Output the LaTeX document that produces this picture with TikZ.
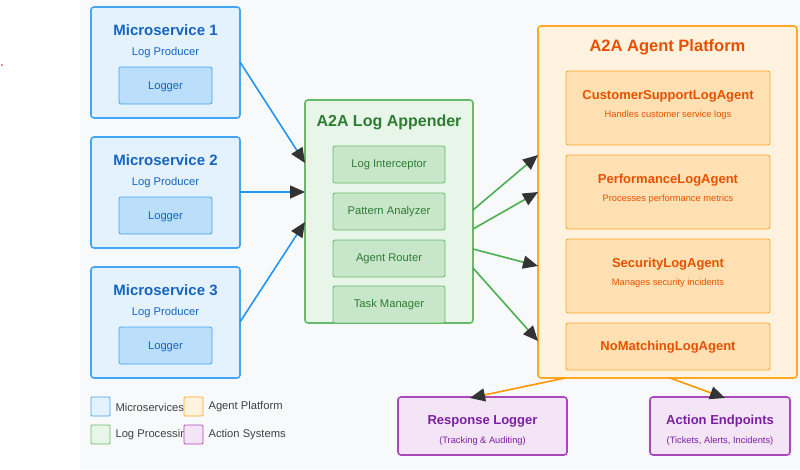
\documentclass[tikz,border=0pt]{standalone}
\usepackage{fontspec}
\setmainfont{Liberation Sans}
\usetikzlibrary{arrows.meta}
\definecolor{bB}{HTML}{42A5F5}\definecolor{bF}{HTML}{E3F2FD}\definecolor{bI}{HTML}{BBDEFB}\definecolor{bT}{HTML}{1565C0}
\definecolor{gB}{HTML}{66BB6A}\definecolor{gF}{HTML}{E8F5E9}\definecolor{gI}{HTML}{C8E6C9}\definecolor{gT}{HTML}{2E7D32}
\definecolor{oB}{HTML}{FFA726}\definecolor{oF}{HTML}{FFF3E0}\definecolor{oI}{HTML}{FFE0B2}\definecolor{oT}{HTML}{E65100}
\definecolor{pB}{HTML}{AB47BC}\definecolor{pF}{HTML}{F3E5F5}\definecolor{pT}{HTML}{7B1FA2}
\definecolor{bL}{HTML}{2196F3}\definecolor{gL}{HTML}{4CAF50}\definecolor{oL}{HTML}{FF9800}
\definecolor{bg}{HTML}{F8F9FA}\definecolor{ah}{HTML}{333333}
\begin{document}
\begin{tikzpicture}[x=1pt,y=-1pt,
 box/.style={rounded corners=3pt,line width=1.6pt},
 ibox/.style={rounded corners=2pt,line width=0.8pt},
 ttl/.style={font=\bfseries\fontsize{15}{17}\selectfont},
 sub/.style={font=\fontsize{11.2}{13}\selectfont},
 sm/.style={font=\fontsize{9.3}{11}\selectfont},
 hd/.style={font=\bfseries\fontsize{13}{15}\selectfont},
 con/.style={line width=1.6pt,-{Triangle[length=15pt,width=13pt,fill=ah,color=ah]}},
 leg/.style={line width=0.9pt,rounded corners=1pt}]
\useasboundingbox (0,0) rectangle (800,469);
\fill[white] (0,0) rectangle (800,469);
\fill[bg] (80,0) rectangle (800,469);
\fill[red] (2,65) circle (0.8);
% microservices
\foreach \i/\y in {1/7,2/137,3/267}{
 \draw[box,draw=bB,fill=bF] (91,\y) rectangle (240,\y+111);
 \node[ttl,text=bT] (ms\i) at (165.5,\y+23) {Microservice \i};
 \node[sub,text=bT] (lp\i) at (165.5,\y+46) {Log Producer};
 \draw[ibox,draw=bB,fill=bI] (119,\y+60) rectangle (212,\y+97);
 \node[sub,text=bT] (lg\i) at (165.5,\y+79.5) {Logger};
 \coordinate (m\i) at (240,\y+55);
}
% appender
\draw[box,draw=gB,fill=gF] (305,100) rectangle (473,323);
\node[ttl,text=gT,font=\bfseries\fontsize{16}{18}\selectfont] (apt) at (389,122) {A2A Log Appender};
\begin{scope}
\clip (305,100) rectangle (473,322);
\foreach \n/\t/\y in {li/Log Interceptor/146,pa/Pattern Analyzer/193,ar/Agent Router/240,tm/Task Manager/286}{
 \draw[ibox,draw=gB,fill=gI] (333,\y) rectangle (445,\y+37);
 \node[sub,text=gT] (\n) at (389,\y+19) {\t};
}
\end{scope}
% platform
\draw[box,draw=oB,fill=oF] (538,26) rectangle (797,378);
\node[text=oT,font=\bfseries\fontsize{16.5}{18}\selectfont] (plt) at (667.5,47) {A2A Agent Platform};
\foreach \n/\t/\d/\y/\h in {cs/CustomerSupportLogAgent/Handles customer service logs/71/74,pf/PerformanceLogAgent/Processes performance metrics/155/74,sc/SecurityLogAgent/Manages security incidents/239/74}{
 \draw[ibox,draw=oB,fill=oI] (566,\y) rectangle (770,\y+\h);
 \node[hd,text=oT] (\n) at (668,\y+25) {\t};
 \node[sm,text=oT] (\n d) at (668,\y+44) {\d};
}
\draw[ibox,draw=oB,fill=oI] (566,323) rectangle (770,370);
\node[hd,text=oT] (nm) at (668,347) {NoMatchingLogAgent};
% bottom boxes
\draw[box,draw=pB,fill=pF] (398,397) rectangle (567,455);
\node[hd,text=pT] (rl) at (482.5,421) {Response Logger};
\node[sm,text=pT] (rls) at (482.5,441) {(Tracking \& Auditing)};
\draw[box,draw=pB,fill=pF] (650,397) rectangle (790,455);
\node[hd,text=pT] (ae) at (720,421) {Action Endpoints};
\node[sm,text=pT] (aes) at (720,441) {(Tickets, Alerts, Incidents)};
% connectors
\coordinate (a1) at (305,163);\coordinate (a2) at (305,192);\coordinate (a3) at (305,222);
\draw[con,draw=bL] (m1) -- (a1);
\draw[con,draw=bL] (m2) -- (a2);
\draw[con,draw=bL] (m3) -- (a3);
\coordinate (g1) at (473,210);\coordinate (g2) at (473,229);\coordinate (g3) at (473,249);\coordinate (g4) at (473,268);
\coordinate (p1) at (538,155);\coordinate (p2) at (538,192);\coordinate (p3) at (538,266);\coordinate (p4) at (538,341);
\foreach \k in {1,2,3,4}{\draw[con,draw=gL] (g\k) -- (p\k);}
\coordinate (o1) at (565,378);\coordinate (o2) at (670,378);
\coordinate (r1) at (470,398);\coordinate (r2) at (725,398);
\draw[con,draw=oL] (o1) -- (r1);
\draw[con,draw=oL] (o2) -- (r2);
% legend
\node[sub,text=black!75,anchor=west] (l1) at (112,407) {Microservices};
\node[sub,text=black!75,anchor=west] (l2) at (112,435) {Log Processing};
\node[sub,text=black!75,anchor=west] (l3) at (205,407) {Agent Platform};
\node[sub,text=black!75,anchor=west] (l4) at (205,435) {Action Systems};
\draw[leg,draw=bB,fill=bF] (91,397) rectangle (110,416);
\draw[leg,draw=gB,fill=gF] (91,425) rectangle (110,444);
\draw[leg,draw=oB,fill=oF] (184,397) rectangle (203,416);
\draw[leg,draw=pB,fill=pF] (184,425) rectangle (203,444);
\end{tikzpicture}
\end{document}
